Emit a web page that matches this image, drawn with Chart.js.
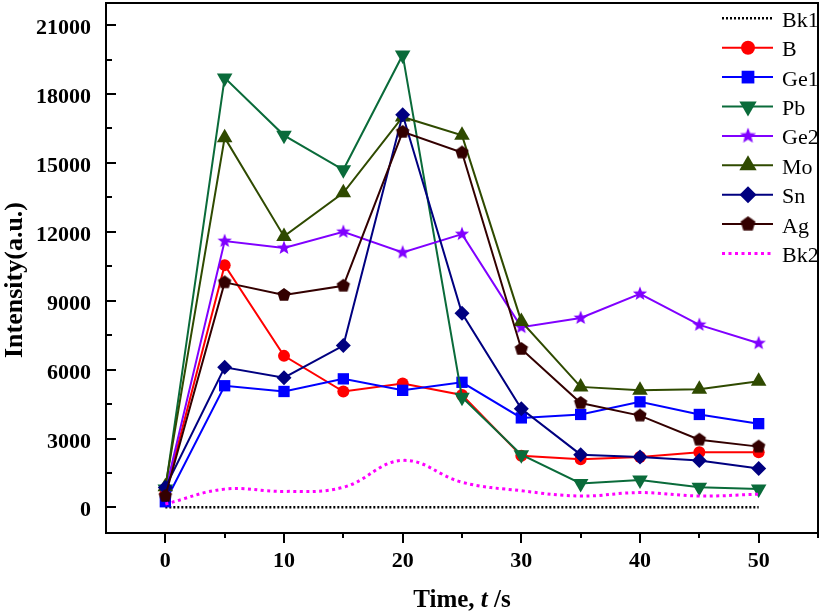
<!DOCTYPE html>
<html>
<head>
<meta charset="utf-8">
<script src="https://cdn.jsdelivr.net/npm/chart.js@4.4.0/dist/chart.umd.min.js"></script>
<style>
html, body { margin: 0; padding: 0; background: #fff; }
canvas { display: block; }
</style>
</head>
<body>
<canvas id="chart" width="829" height="616"></canvas>
<script>
// time points (s)
const times = [0, 5, 10, 15, 20, 25, 30, 35, 40, 45, 50]

// intensities (a.u.)
const bk1 = [10, 10, 10, 10, 10, 10, 10, 10, 10, 10, 10]
const b   = [600, 10550, 6600, 5050, 5400, 4900, 2250, 2100, 2200, 2400, 2400]
const ge1 = [250, 5300, 5050, 5600, 5100, 5450, 3900, 4050, 4600, 4050, 3650]
const pb  = [800, 18700, 16200, 14700, 19700, 4800, 2300, 1050, 1200, 880, 800]
const ge2 = [700, 11600, 11300, 12000, 11100, 11900, 7850, 8250, 9300, 7950, 7150]
const mo  = [900, 16100, 11800, 13700, 17000, 16200, 8100, 5250, 5100, 5150, 5500]
const sn  = [870, 6100, 5650, 7050, 17100, 8450, 4300, 2300, 2200, 2050, 1700]
const ag  = [500, 9800, 9250, 9650, 16350, 15450, 6900, 4550, 4000, 2950, 2650]
const bk2 = [150, 800, 700, 880, 2050, 1100, 730, 500, 650, 500, 580]

const seriesNames = ['Bk1', 'B', 'Ge1', 'Pb', 'Ge2', 'Mo', 'Sn', 'Ag', 'Bk2']
const seriesValues = [bk1, b, ge1, pb, ge2, mo, sn, ag, bk2]

const xTickValues = [0, 10, 20, 30, 40, 50]
const yTickValues = [0, 3000, 6000, 9000, 12000, 15000, 18000, 21000]

// custom marker images for star and pentagon
function polyMarker(color, points, outer, inner) {
    const c = document.createElement('canvas')
    c.width = 16
    c.height = 16
    const g = c.getContext('2d')
    g.beginPath()
    const n = inner ? points * 2 : points
    for (let i = 0; i < n; i++) {
        const r = inner && i % 2 ? inner : outer
        const a = -Math.PI / 2 + i * 2 * Math.PI / n
        const px = 8 + r * Math.cos(a), py = 8 + r * Math.sin(a)
        i ? g.lineTo(px, py) : g.moveTo(px, py)
    }
    g.closePath()
    g.fillStyle = color
    g.fill()
    return c
}
const starImg = polyMarker('#8000FF', 5, 7.5, 3.2)
const pentImg = polyMarker('#330000', 5, 7, 0)

const styles = [
    {color: '#000000', point: false, dash: [2, 2], width: 2.5},
    {color: '#FF0000', point: 'circle', radius: 6},
    {color: '#0000FF', point: 'rect', radius: 8},
    {color: '#0A6B3A', point: 'triangle', radius: 9, rotation: 180},
    {color: '#8000FF', point: starImg},
    {color: '#2F4A00', point: 'triangle', radius: 9},
    {color: '#000080', point: 'rectRot', radius: 7.5},
    {color: '#330000', point: pentImg},
    {color: '#FF00FF', point: false, dash: [3, 3.5], width: 3, tension: 0.4}
]

const datasets = seriesNames.map((name, i) => {
    const s = styles[i]
    return {
        label: name,
        data: times.map((t, k) => ({x: t, y: seriesValues[i][k]})),
        borderColor: s.color,
        backgroundColor: s.color,
        borderWidth: s.width || 2,
        borderDash: s.dash || [],
        tension: s.tension || 0,
        pointStyle: s.point || 'circle',
        pointRadius: s.point ? (s.radius || 7) : 0,
        pointRotation: s.rotation || 0,
        pointBorderWidth: 0,
        order: seriesNames.length - i,
        clip: false
    }
})

const axesPlugin = {
    id: 'axesPlugin',
    afterDraw(chart) {
        const {ctx, scales: {x, y}} = chart
        const L = x.getPixelForValue(x.min), R = x.getPixelForValue(x.max)
        const T = y.getPixelForValue(y.max), B = y.getPixelForValue(y.min)
        ctx.save()
        ctx.setLineDash([])
        ctx.strokeStyle = '#000'
        ctx.lineWidth = 2
        ctx.beginPath()
        ctx.rect(L, T, R - L, B - T)
        for (let v = 0; v <= y.max; v += 1500) {
            const py = Math.round(y.getPixelForValue(v))
            const len = v % 3000 === 0 ? 10 : 6
            ctx.moveTo(L, py)
            ctx.lineTo(L + len, py)
        }
        for (let v = 0; v <= x.max; v += 5) {
            const px = Math.round(x.getPixelForValue(v))
            const len = v % 10 === 0 ? 10 : 5
            ctx.moveTo(px, B)
            ctx.lineTo(px, B + len)
        }
        ctx.stroke()

        // y tick labels
        ctx.fillStyle = '#000'
        ctx.textBaseline = 'alphabetic'
        ctx.textAlign = 'right'
        ctx.font = 'bold 22px "Liberation Serif"'
        yTickValues.forEach(v => {
            ctx.fillText(String(v), 91, y.getPixelForValue(v) + 9)
        })

        // axis titles
        const parts = [
            ['Time, ', 'bold 25px "Liberation Serif"'],
            ['t', 'italic bold 25px "Liberation Serif"'],
            [' /s', 'bold 25px "Liberation Serif"']
        ]
        let total = 0
        parts.forEach(p => { ctx.font = p[1]; total += ctx.measureText(p[0]).width })
        let tx = (L + R) / 2 - total / 2
        ctx.textAlign = 'left'
        parts.forEach(p => {
            ctx.font = p[1]
            ctx.fillText(p[0], tx, 607)
            tx += ctx.measureText(p[0]).width
        })
        ctx.save()
        ctx.translate(22, 280)
        ctx.rotate(-Math.PI / 2)
        ctx.textAlign = 'center'
        ctx.font = 'bold 26px "Liberation Serif"'
        ctx.fillText('Intensity(a.u.)', 0, 0)
        ctx.restore()

        // legend
        const lx0 = 722, lx1 = 773, mx = 748
        chart.data.datasets.forEach((ds, i) => {
            const ly = 18.3 + i * 29.4
            ctx.save()
            ctx.strokeStyle = ds.borderColor
            ctx.lineWidth = ds.borderWidth
            ctx.setLineDash(ds.borderDash)
            ctx.beginPath()
            ctx.moveTo(lx0, ly)
            ctx.lineTo(lx1, ly)
            ctx.stroke()
            ctx.restore()
            if (ds.pointRadius > 0 || ds.pointStyle instanceof HTMLCanvasElement) {
                drawMarker(ctx, ds, mx, ly)
            }
            ctx.fillStyle = '#000'
            ctx.font = '22px "Liberation Serif"'
            ctx.textAlign = 'left'
            ctx.fillText(ds.label, 782, ly + 8.4)
        })
        ctx.restore()
    }
}

function drawMarker(ctx, ds, cx, cy) {
    const st = ds.pointStyle
    const r = ds.pointRadius + 1
    ctx.save()
    ctx.fillStyle = ds.backgroundColor
    if (st instanceof HTMLCanvasElement) {
        ctx.drawImage(st, cx - 9, cy - 9, 18, 18)
        ctx.restore()
        return
    }
    ctx.translate(cx, cy)
    ctx.rotate(ds.pointRotation * Math.PI / 180)
    ctx.beginPath()
    if (st === 'circle') {
        ctx.arc(0, 0, r, 0, Math.PI * 2)
    } else if (st === 'rect') {
        const h = r * Math.SQRT1_2
        ctx.rect(-h, -h, 2 * h, 2 * h)
    } else if (st === 'rectRot') {
        ctx.moveTo(0, -r); ctx.lineTo(r, 0); ctx.lineTo(0, r); ctx.lineTo(-r, 0)
    } else if (st === 'triangle') {
        for (let k = 0; k < 3; k++) {
            const ang = k * 2 * Math.PI / 3
            const px = Math.sin(ang) * r, py = -Math.cos(ang) * r
            k ? ctx.lineTo(px, py) : ctx.moveTo(px, py)
        }
    }
    ctx.closePath()
    ctx.fill()
    ctx.restore()
}

new Chart(document.getElementById('chart'), {
    type: 'line',
    data: {datasets},
    options: {
        responsive: false,
        animation: false,
        devicePixelRatio: 1,
        layout: {autoPadding: false, padding: {top: 3, right: 11, left: 0, bottom: 0}},
        plugins: {legend: {display: false}, tooltip: {enabled: false}},
        scales: {
            x: {
                type: 'linear',
                min: -5,
                max: 55,
                afterFit: s => { s.height = 83 },
                afterBuildTicks: s => { s.ticks = xTickValues.map(v => ({value: v})) },
                grid: {display: false, drawTicks: false},
                border: {display: false},
                ticks: {
                    padding: 15,
                    color: '#000',
                    font: {family: 'Liberation Serif', size: 22, weight: 'bold'},
                    callback: v => String(v)
                }
            },
            y: {
                type: 'linear',
                min: -1110,
                max: 21960,
                afterFit: s => { s.width = 106 },
                afterBuildTicks: s => { s.ticks = yTickValues.map(v => ({value: v})) },
                grid: {display: false, drawTicks: false},
                border: {display: false},
                ticks: {display: false}
            }
        }
    },
    plugins: [axesPlugin]
})
</script>
</body>
</html>
